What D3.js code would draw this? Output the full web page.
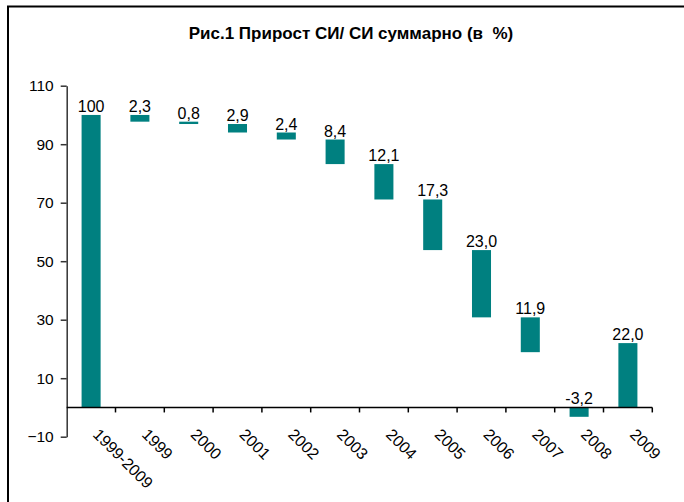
<!DOCTYPE html>
<html>
<head>
<meta charset="utf-8">
<script src="https://cdn.jsdelivr.net/npm/d3@7"></script>
<style>
  html, body { margin: 0; padding: 0; background: #fff; }
  svg { display: block; font-family: "Liberation Sans", Arial, sans-serif; }
</style>
</head>
<body>
<svg id="chart" width="684" height="502"></svg>
<script>
// ---- data ----
const categories = ["1999-2009", "1999", "2000", "2001", "2002", "2003", "2004", "2005", "2006", "2007", "2008", "2009"];
const values     = [100, 2.3, 0.8, 2.9, 2.4, 8.4, 12.1, 17.3, 23.0, 11.9, -3.2, 22.0];
const barTops    = [100, 100, 97.7, 96.9, 94.0, 91.6, 83.2, 71.1, 53.8, 30.8, 0, 22.0];
const labels     = ["100", "2,3", "0,8", "2,9", "2,4", "8,4", "12,1", "17,3", "23,0", "11,9", "-3,2", "22,0"];
const yTicks     = [-10, 10, 30, 50, 70, 90, 110];
const title      = "Рис.1 Прирост СИ/ СИ суммарно (в  %)";

// ---- layout ----
const svg = d3.select("#chart");
const pLeft = 66.7, pRight = 652.3, pTop = 85.7, pBottom = 436.7;

svg.append("rect")
  .attr("x", 8).attr("y", 6.5).attr("width", 720).attr("height", 560)
  .attr("fill", "none").attr("stroke", "#000").attr("stroke-width", 2);

svg.append("text")
  .attr("x", 351).attr("y", 38.5)
  .attr("text-anchor", "middle")
  .attr("font-weight", "bold").attr("font-size", "17px")
  .attr("fill", "#000")
  .attr("xml:space", "preserve")
  .style("white-space", "pre")
  .text(title);

const x = d3.scaleBand().domain(categories).range([pLeft, pRight]).padding(0);
const y = d3.scaleLinear().domain([-10, 110]).range([pBottom, pTop]);
const barW = x.bandwidth() * 0.39;

// y axis
const yAxis = d3.axisLeft(y).tickValues(yTicks).tickSize(6).tickPadding(7).tickSizeOuter(0);
const gy = svg.append("g").attr("transform", `translate(${pLeft},0)`).call(yAxis);
gy.select(".domain").attr("stroke", "#333").attr("stroke-width", 1.5);
gy.selectAll(".tick line").attr("stroke", "#333").attr("stroke-width", 1.5);
gy.selectAll(".tick text").attr("font-size", "15.5px").attr("fill", "#000")
  .attr("font-family", "Liberation Sans, Arial, sans-serif");

// bars
svg.append("g").selectAll("rect")
  .data(categories)
  .join("rect")
  .attr("x", (d) => x(d) + x.bandwidth() / 2 - barW / 2)
  .attr("width", barW)
  .attr("y", (d, i) => y(barTops[i]))
  .attr("height", (d, i) => y(barTops[i] - Math.abs(values[i])) - y(barTops[i]))
  .attr("fill", "#008080");

// x axis line at zero
svg.append("line")
  .attr("x1", pLeft).attr("x2", pRight)
  .attr("y1", y(0)).attr("y2", y(0))
  .attr("stroke", "#000").attr("stroke-width", 1.5);

// x ticks at band boundaries
svg.append("g").selectAll("line")
  .data(categories)
  .join("line")
  .attr("x1", (d) => x(d) + x.bandwidth()).attr("x2", (d) => x(d) + x.bandwidth())
  .attr("y1", y(0)).attr("y2", y(0) + 5)
  .attr("stroke", "#000").attr("stroke-width", 1.5);

// x tick labels rotated
svg.append("g").selectAll("text")
  .data(categories)
  .join("text")
  .attr("transform", (d) => `translate(${x(d) + x.bandwidth() / 2 + 1},${y(0) + 28}) rotate(45)`)
  .attr("text-anchor", "start")
  .attr("font-size", "16px")
  .attr("fill", "#000")
  .text((d) => d);

// value labels
svg.append("g").selectAll("text")
  .data(categories)
  .join("text")
  .attr("x", (d) => x(d) + x.bandwidth() / 2)
  .attr("y", (d, i) => y(barTops[i]) - 3)
  .attr("text-anchor", "middle")
  .attr("font-size", "16px")
  .attr("fill", "#000")
  .text((d, i) => labels[i]);
</script>
</body>
</html>
